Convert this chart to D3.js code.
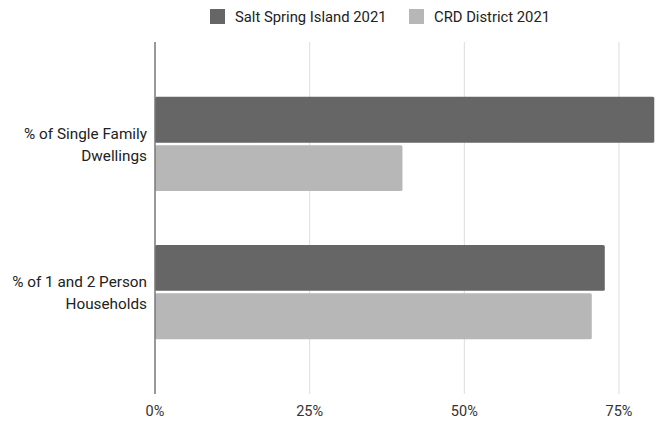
<!DOCTYPE html>
<html>
<head>
<meta charset="utf-8">
<script src="https://cdn.jsdelivr.net/npm/d3@7"></script>
<style>
  body { margin: 0; background: #fff; }
  text { font-family: Roboto, "Noto Sans", sans-serif; }
</style>
</head>
<body>
<div id="chart"></div>
<script>
// Data
const categories = [["% of Single Family", "Dwellings"], ["% of 1 and 2 Person", "Households"]];
const seriesNames = ["Salt Spring Island 2021", "CRD District 2021"];
const saltSpring = [80.7, 72.7];
const crd = [40.0, 70.6];
const tickValues = [0, 25, 50, 75];
const tickLabels = ["0%", "25%", "50%", "75%"];

const width = 659, height = 423;
const colors = ["#666666", "#b7b7b7"];

const svg = d3.select("#chart").append("svg")
  .attr("width", width)
  .attr("height", height)
  .style("background", "#fff");

// Scales
const x = d3.scaleLinear().domain([0, 75]).range([155, 619]);
const y = d3.scaleBand()
  .domain(d3.range(categories.length))
  .range([42, 394])
  .paddingInner(0.364)
  .paddingOuter(0.37);
const ySub = d3.scaleBand()
  .domain(d3.range(seriesNames.length))
  .range([0, y.bandwidth()])
  .paddingInner(0.05);

// Grid lines
svg.append("g")
  .selectAll("line")
  .data(tickValues.slice(1))
  .join("line")
    .attr("x1", d => x(d)).attr("x2", d => x(d))
    .attr("y1", 42).attr("y2", 394)
    .attr("stroke", "#dcdcdc")
    .attr("stroke-width", 1);

// Bars
const rows = categories.map((c, i) => ({ i, values: [saltSpring[i], crd[i]] }));
const groups = svg.append("g")
  .selectAll("g")
  .data(rows)
  .join("g")
    .attr("transform", d => `translate(0,${y(d.i)})`);

groups.selectAll("rect")
  .data(d => d.values.map((v, s) => ({ v, s })))
  .join("rect")
    .attr("x", x(0))
    .attr("y", d => ySub(d.s))
    .attr("width", d => x(d.v) - x(0))
    .attr("height", ySub.bandwidth())
    .attr("rx", 1.5)
    .attr("fill", d => colors[d.s]);

// Zero axis line
svg.append("line")
  .attr("x1", x(0)).attr("x2", x(0))
  .attr("y1", 42).attr("y2", 394)
  .attr("stroke", "#777")
  .attr("stroke-width", 1.5);

// X tick labels
svg.append("g")
  .selectAll("text")
  .data(tickValues)
  .join("text")
    .attr("x", d => x(d))
    .attr("y", 416)
    .attr("text-anchor", "middle")
    .attr("fill", "#333")
    .style("font-size", "14.5px")
    .text((d, i) => tickLabels[i]);

// Category labels
const catLabels = svg.append("g")
  .selectAll("text")
  .data(categories)
  .join("text")
    .attr("text-anchor", "end")
    .attr("fill", "#222")
    .style("font-size", "15.3px")
    .attr("transform", (d, i) => `translate(147,${y(i) + y.bandwidth() / 2})`);

catLabels.selectAll("tspan")
  .data(d => d)
  .join("tspan")
    .attr("x", 0)
    .attr("y", (d, j) => j === 0 ? -5 : 17)
    .text(d => d);

// Legend
const legendX = [210, 409];
const legend = svg.append("g")
  .selectAll("g")
  .data(seriesNames)
  .join("g")
    .attr("transform", (d, i) => `translate(${legendX[i]},9)`);

legend.append("rect")
  .attr("width", 15)
  .attr("height", 15)
  .attr("fill", (d, i) => colors[i]);

legend.append("text")
  .attr("x", 25)
  .attr("y", 12.5)
  .attr("fill", "#222")
  .style("font-size", "14.8px")
  .text(d => d);
</script>
</body>
</html>
